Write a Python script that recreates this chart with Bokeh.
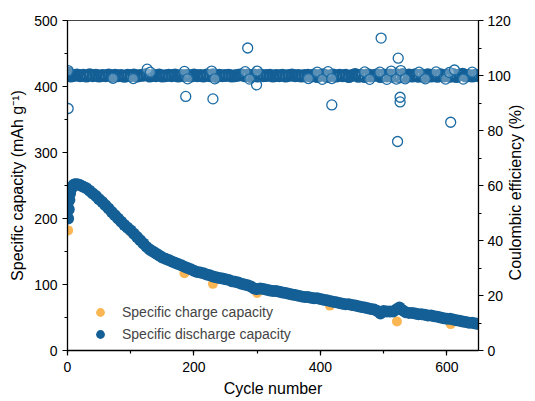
import math
from bokeh.plotting import figure
from bokeh.models import (Range1d, LinearAxis, SingleIntervalTicker, FixedTicker, Legend, LegendItem)
from bokeh.embed import file_html
from bokeh.resources import INLINE

# ---------------- data ----------------
dis_cycles = [1, 2, 3, 4, 6, 8, 10, 12, 15, 18, 21, 25] + list(range(30, 651, 5))
dis_values = [200, 214, 228, 238, 245, 249, 251, 252, 252, 251, 250, 248,
              246, 242, 238, 234, 229, 225, 220, 215, 210, 205,
              200, 195, 190, 186, 182, 177, 172, 167, 162, 157,
              153, 150, 147, 144, 141, 139, 137, 135, 133, 131,
              129, 127, 125, 123, 121, 119, 118, 117, 115, 114,
              112, 111, 110, 109, 108, 107, 105, 104, 103, 101,
              100, 99, 97, 94, 93, 94, 93, 92, 91, 90,
              90, 89, 88, 87, 86, 85, 84, 83, 82, 81,
              81, 80, 79, 79, 78, 77, 76, 75, 74, 73,
              72, 71, 70, 70, 69, 68, 67, 66, 65, 64,
              63, 62, 60, 56, 60, 59, 59, 59, 62, 65,
              61, 58, 57, 57, 56, 55, 55, 54, 53, 53,
              52, 51, 50, 49, 48, 48, 47, 46, 45, 44,
              43, 42, 42, 41, 40]

chg_cycles = [1, 2, 3, 5, 8, 12, 16, 20, 25] + list(range(30, 651, 10)) + [185, 230, 300, 415, 521, 606]
chg_values = [182, 212, 226, 240, 248, 251, 251, 250, 247,
              245, 237, 228, 219, 209, 199, 189, 180, 170, 161,
              152, 146, 140, 136, 132, 128, 124, 120, 117, 114,
              111, 109, 107, 104, 102, 99, 96, 92, 92, 90,
              89, 87, 85, 83, 81, 80, 78, 77, 75, 73,
              71, 69, 68, 66, 64, 62, 59, 59, 58, 61,
              60, 56, 55, 54, 52, 51, 49, 47, 46, 44,
              42, 41, 39,
              117, 101, 87, 68, 44, 40]

# Coulombic efficiency: dense band near 100 %
ce_band_cycles = [1, 3] + list(range(5, 651, 5))
ce_band_values = [100.9, 100.2,
                  99.8, 100.0, 100.2, 99.9, 100.1, 99.8, 100.3, 99.9, 100.1, 99.8,
                  100.0, 99.9, 100.2, 99.8, 100.1, 99.9, 100.0, 99.7, 100.1, 99.9,
                  100.2, 99.8, 100.0, 100.1, 100.4, 99.8, 100.0, 99.9, 100.2, 99.8,
                  99.9, 100.1, 99.9, 100.2, 99.8, 100.0, 99.9, 100.1, 99.8, 100.2,
                  99.9, 100.0, 99.8, 100.2, 99.9, 100.3, 99.6, 100.1, 99.9, 100.0,
                  100.1, 99.8, 99.9, 100.1, 100.3, 99.9, 100.2, 99.6, 100.2, 99.8,
                  100.2, 99.9, 100.0, 100.1, 99.8, 100.0, 99.9, 100.1, 99.8, 100.0,
                  100.2, 99.9, 100.0, 99.8, 100.0, 100.1, 99.8, 100.2, 99.6, 100.1,
                  100.3, 99.6, 99.9, 100.2, 99.8, 100.1, 99.9, 100.1, 99.6, 100.0,
                  100.4, 99.7, 100.1, 99.6, 100.3, 99.8, 100.0, 100.3, 99.6, 100.2,
                  99.8, 100.2, 99.7, 100.3, 99.5, 100.4, 99.6, 100.2, 99.8, 100.3,
                  99.7, 100.2, 99.6, 100.3, 99.8, 100.0, 99.7, 100.3, 99.8, 100.1,
                  99.7, 100.4, 99.6, 100.2, 100.5, 99.8, 100.0, 99.8, 100.1, 99.9]

# ring-shaped points sticking out of the band
ce_ring_cycles = [1, 72, 104, 126, 131, 185, 190, 228, 233, 281, 288, 300, 381, 395,
                  403, 412, 418, 470, 478, 494, 505, 512, 520, 527, 534, 556, 566,
                  583, 598, 604, 612, 626, 640]
ce_ring_values = [101.8, 99.0, 98.9, 102.3, 101.2, 101.5, 98.8, 101.6, 98.8, 101.4,
                  98.7, 101.6, 98.9, 101.2, 98.6, 101.4, 98.9, 101.3, 98.6, 101.2,
                  98.6, 101.6, 98.7, 101.8, 98.8, 101.2, 98.8, 101.3, 98.7, 101.1,
                  102.0, 98.7, 101.2]

# isolated outliers
ce_out_cycles = [1, 187, 230, 285, 299, 418, 496, 523, 526, 526, 522, 606]
ce_out_values = [88.0, 92.4, 91.5, 110.0, 96.6, 89.3, 113.6, 106.3, 92.1, 90.4, 76.0, 83.0]

BLUE = "#135f96"
RING = "#1a6aa3"
ORANGE = "#fbb654"
FONT = "Liberation Sans"
CE_TITLE = "Coulombic efficiency (%)"

# ---------------- figure ----------------
p = figure(width=535, height=401, output_backend="svg", toolbar_location=None,
           x_range=Range1d(0, 650), y_range=Range1d(0, 500),
           min_border_left=67, min_border_right=0, min_border_top=20, min_border_bottom=51)
p.extra_y_ranges = {"ce": Range1d(0, 120)}
p.grid.visible = False
p.outline_line_color = "#444444"
p.outline_line_width = 1

chg = p.scatter(chg_cycles, chg_values, size=10, color=ORANGE, line_color=None)
dis = p.scatter(dis_cycles, dis_values, size=12, color=BLUE, line_color=None)
p.scatter(ce_band_cycles, ce_band_values, size=10, fill_color=None, line_color=BLUE,
          line_width=3, y_range_name="ce")
p.scatter(ce_ring_cycles, ce_ring_values, size=10, fill_color="white", fill_alpha=0.3,
          line_color=RING, line_width=1.3, y_range_name="ce")
p.scatter(ce_out_cycles, ce_out_values, size=10, fill_color=None, line_color=RING,
          line_width=1.3, y_range_name="ce")


def style(ax):
    ax.axis_line_color = "black"
    ax.axis_line_width = 1.3
    ax.major_tick_line_color = "black"
    ax.minor_tick_line_color = "black"
    ax.major_tick_line_width = 1.2
    ax.minor_tick_line_width = 1.2
    ax.major_tick_in = 0
    ax.major_tick_out = 5
    ax.minor_tick_in = 0
    ax.minor_tick_out = 3
    ax.major_label_text_font = FONT
    ax.major_label_text_font_size = "14px"
    ax.major_label_text_color = "black"
    ax.axis_label_text_font = FONT
    ax.axis_label_text_font_size = "16px"
    ax.axis_label_text_font_style = "normal"
    ax.axis_label_text_color = "black"


p.xaxis.ticker = SingleIntervalTicker(interval=200, num_minor_ticks=2)
p.yaxis.ticker = SingleIntervalTicker(interval=100, num_minor_ticks=2)
p.xaxis.axis_label = "Cycle number"
p.yaxis.axis_label = "Specific capacity (mAh g\u207b\u00b9)"
style(p.xaxis[0])
style(p.yaxis[0])
p.xaxis.major_label_standoff = 6
p.yaxis.major_label_standoff = 5

rax = LinearAxis(y_range_name="ce", ticker=SingleIntervalTicker(interval=20, num_minor_ticks=2))
style(rax)
rax.major_label_standoff = 4
p.add_layout(rax, "right")

# right-hand title, drawn as a single rotated label reading bottom-to-top
rtitle = LinearAxis(y_range_name="ce", ticker=FixedTicker(ticks=[25.5]),
                    major_label_overrides={25.5: CE_TITLE})
rtitle.axis_line_color = None
rtitle.major_tick_line_color = None
rtitle.minor_tick_line_color = None
rtitle.major_tick_in = 0
rtitle.major_tick_out = 0
rtitle.minor_tick_in = 0
rtitle.minor_tick_out = 0
rtitle.major_label_standoff = 2
rtitle.major_label_orientation = math.pi / 2
rtitle.major_label_text_font = FONT
rtitle.major_label_text_font_size = "16px"
rtitle.major_label_text_color = "black"
p.add_layout(rtitle, "right")

legend = Legend(items=[LegendItem(label="Specific charge capacity", renderers=[chg]),
                       LegendItem(label="Specific discharge capacity", renderers=[dis])],
                location=(22, 5), background_fill_alpha=0, border_line_color=None,
                label_text_font=FONT, label_text_font_size="14px", label_standoff=11,
                glyph_width=22, glyph_height=22, label_height=18, spacing=-4,
                padding=0, margin=0)
p.add_layout(legend)

open("out.html", "w").write(file_html(p, INLINE))
